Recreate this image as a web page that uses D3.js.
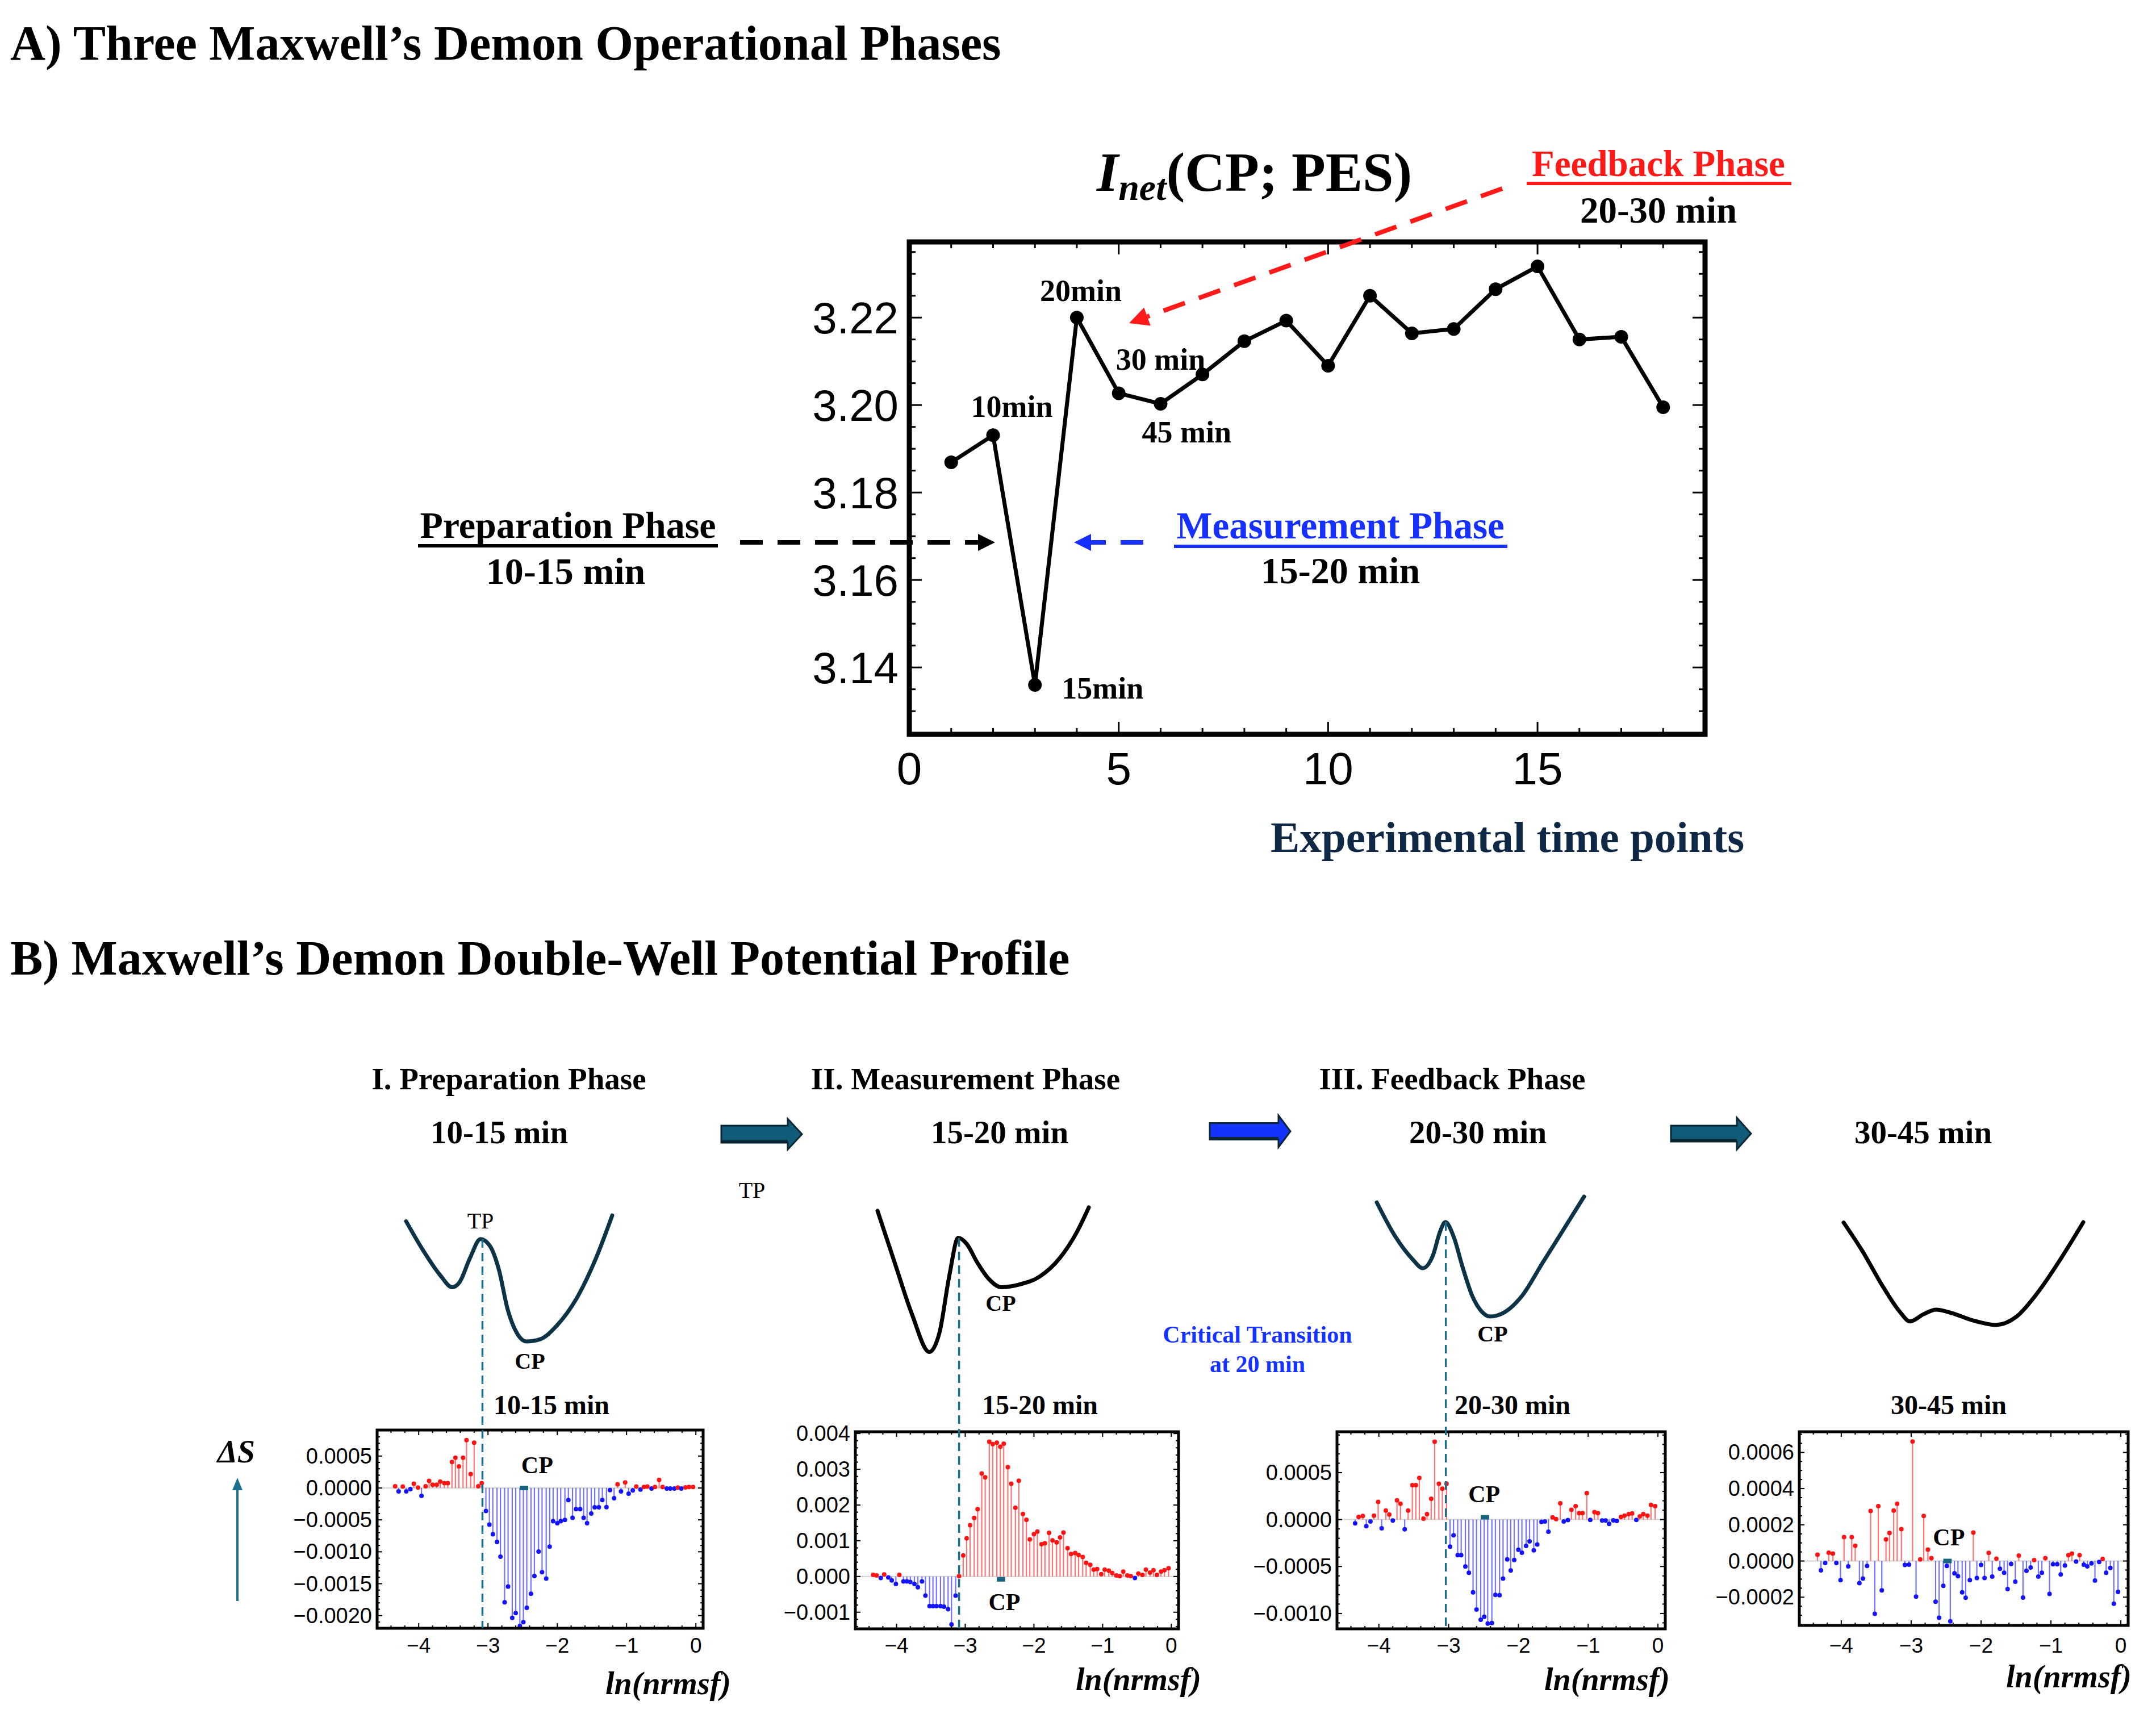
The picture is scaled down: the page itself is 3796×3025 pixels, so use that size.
<!DOCTYPE html>
<html>
<head>
<meta charset="utf-8">
<title>Maxwell's Demon phases</title>
<script src="https://cdn.jsdelivr.net/npm/d3@7"></script>
<style>
body { margin:0; background:#fff; }
svg text { font-family: "Liberation Serif", "Times New Roman", serif; }
</style>
</head>
<body>
<svg id="fig" width="3796" height="3025"></svg>
<script>

// ---- A) I_net(CP; PES) over experimental time points ----
var timePoints = [1, 2, 3, 4, 5, 6, 7, 8, 9, 10, 11, 12, 13, 14, 15, 16, 17, 18];
var inetValues = [3.1869, 3.1931, 3.1360, 3.2200, 3.2027, 3.2003, 3.2070, 3.2146, 3.2193,
                  3.2090, 3.2250, 3.2164, 3.2174, 3.2265, 3.2317, 3.2150, 3.2156, 3.1995];
var inetYTicks = [3.14, 3.16, 3.18, 3.20, 3.22];
var inetXTicks = [0, 5, 10, 15];
var timeNotes = [[2, "10min"], [3, "15min"], [4, "20min"], [5, "30 min"], [6, "45 min"]];

// ---- B) entropy change vs ln(nrmsf) ----
var lnGrid = [-4.34, -4.29, -4.23, -4.18, -4.12, -4.07, -4.01, -3.96, -3.90, -3.85,
              -3.80, -3.74, -3.69, -3.63, -3.58, -3.52, -3.47, -3.42, -3.36, -3.31,
              -3.25, -3.20, -3.14, -3.09, -3.03, -2.98, -2.93, -2.87, -2.82, -2.76,
              -2.71, -2.65, -2.60, -2.54, -2.49, -2.44, -2.38, -2.33, -2.27, -2.22,
              -2.16, -2.11, -2.06, -2.00, -1.95, -1.89, -1.84, -1.78, -1.73, -1.67,
              -1.62, -1.57, -1.51, -1.46, -1.40, -1.35, -1.29, -1.24, -1.18, -1.13,
              -1.08, -1.02, -0.97, -0.91, -0.86, -0.80, -0.75, -0.70, -0.64, -0.59,
              -0.53, -0.48, -0.42, -0.37, -0.31, -0.26, -0.21, -0.15, -0.10, -0.04];

var dsPrep = [0.000027, -0.000054, 0.000021, -0.000054, -0.000018, 0.000066, 0.000006, -0.000123, 0.000027, 0.000111,
              0.000051, 0.000051, 0.000099, 0.000075, 0.000075, 0.000407, 0.000473, 0.000337, 0.000473, 0.000750,
              0.000217, 0.000708, 0.000027, 0.000075, -0.000361, -0.000575, -0.000726, -0.000846, -0.001078, -0.001792,
              -0.001545, -0.002036, -0.001961, -0.002163, -0.002102, -0.001877, -0.001657, -0.001380, -0.000997, -0.001319,
              -0.001419, -0.000919, -0.000521, -0.000551, -0.000521, -0.000500, -0.000190, -0.000467, -0.000331, -0.000331,
              -0.000467, -0.000551, -0.000401, -0.000304, -0.000304, -0.000190, -0.000301, -0.000033, -0.000160, 0.000057,
              -0.000054, 0.000087, -0.000090, -0.000039, 0.000021, -0.000024, 0.000015, 0.000021, -0.000009, 0.000015,
              0.000127, 0.000015, -0.000009, -0.000009, -0.000009, 0.000006, -0.000009, 0.000009, 0.000015, 0.000015];

var dsMeas = [0.000044, 0.000027, -0.000044, 0.000055, -0.000027, -0.000109, -0.000208, 0.000044, -0.000137, -0.000137,
              -0.000153, -0.000208, -0.000300, -0.000137, -0.000536, -0.000831, -0.000831, -0.000831, -0.000831, -0.000847,
              -0.000918, -0.001340, -0.000536, 0.000010, 0.000590, 0.001066, 0.001437, 0.001639, 0.001885, 0.002880,
              0.002776, 0.003770, 0.003705, 0.003743, 0.003634, 0.003716, 0.003060, 0.002596, 0.001923, 0.002678,
              0.001749, 0.001585, 0.001038, 0.001186, 0.001257, 0.000902, 0.000929, 0.001219, 0.001011, 0.000956,
              0.001093, 0.001230, 0.000792, 0.000628, 0.000656, 0.000601, 0.000546, 0.000383, 0.000328, 0.000191,
              0.000208, 0.000066, 0.000191, 0.000164, 0.000098, 0.000027, 0.000011, 0.000137, 0.000027, 0.000011,
              -0.000044, 0.000082, 0.000044, 0.000191, 0.000109, 0.000175, 0.000044, 0.000137, 0.000175, 0.000230];

var dsFeed = [-0.000040, 0.000027, 0.000038, -0.000070, -0.000020, 0.000042, 0.000188, -0.000094, 0.000096, 0.000054,
              -0.000010, 0.000204, 0.000169, -0.000104, 0.000096, 0.000367, 0.000367, 0.000444, 0.000010, 0.000058,
              0.000221, 0.000829, 0.000381, 0.000329, 0.000381, -0.000288, -0.000167, -0.000379, -0.000379, -0.000500,
              -0.000567, -0.000775, -0.000958, -0.001067, -0.001035, -0.001108, -0.001102, -0.000802, -0.000806, -0.000629,
              -0.000425, -0.000542, -0.000431, -0.000321, -0.000354, -0.000281, -0.000233, -0.000327, -0.000265, -0.000025,
              -0.000021, -0.000129, 0.000023, 0.000005, 0.000173, -0.000021, -0.000005, 0.000104, 0.000142, 0.000069,
              0.000069, 0.000281, -0.000004, 0.000079, 0.000069, -0.000010, -0.000010, -0.000046, -0.000008, -0.000015,
              0.000027, 0.000042, 0.000058, 0.000065, -0.000004, 0.000033, 0.000058, 0.000042, 0.000156, 0.000142];

var dsRelax = [0.000035, -0.000052, -0.000011, 0.000046, 0.000041, -0.000011, -0.000106, 0.000132, -0.000030, 0.000132,
               0.000084, -0.000122, -0.000097, -0.000027, 0.000276, -0.000292, 0.000303, -0.000162, 0.000119, 0.000155,
               0.000279, 0.000316, 0.000176, -0.000022, -0.000020, 0.000660, -0.000197, 0.000009, 0.000249, 0.000063,
               0.000016, -0.000225, -0.000314, -0.000137, -0.000027, -0.000333, -0.000068, -0.000084, -0.000173, -0.000203,
               -0.000106, 0.000157, -0.000094, -0.000022, -0.000094, 0.000045, -0.000086, 0.000013, -0.000043, -0.000065,
               -0.000155, -0.000016, -0.000114, 0.000030, -0.000202, -0.000054, -0.000036, 0.000005, -0.000086, -0.000065,
               0.000016, -0.000182, -0.000018, -0.000018, -0.000074, -0.000025, 0.000032, 0.000041, -0.000003, 0.000032,
               -0.000020, -0.000030, -0.000013, -0.000108, -0.000005, 0.000011, -0.000065, -0.000038, -0.000236, -0.000171];

var lnTicks = [-4, -3, -2, -1, 0];
var prepTicks = [0.0005, 0, -0.0005, -0.001, -0.0015, -0.002];
var measTicks = [0.004, 0.003, 0.002, 0.001, 0, -0.001];
var feedTicks = [0.0005, 0, -0.0005, -0.001];
var relaxTicks = [0.0006, 0.0004, 0.0002, 0, -0.0002];

var phaseNames = ["I. Preparation Phase", "II. Measurement Phase", "III. Feedback Phase"];
var phaseWindows = ["10-15 min", "15-20 min", "20-30 min", "30-45 min"];

// schematic potentials: [reaction coordinate 0-100, potential 0-100]
var wellPrep = [[0, 83.8], [8.3, 65.4], [16.7, 49.6], [22.3, 42.3], [25.9, 45.4], [31, 60.7], [36.1, 72.6],
                [40.7, 68.2], [45, 53.4], [49.3, 28.2], [54, 12.9], [58.4, 8.2], [65, 9.6], [73.4, 18.6],
                [83.5, 37.1], [91.7, 59.3], [100, 87.5]];
var wellMeas = [[0, 90.4], [8.1, 57.9], [16.3, 25.4], [24.5, 1.6], [29.3, 13.6], [34.1, 50.4], [38.2, 73.4],
                [42.2, 69.6], [47.2, 57.9], [52.7, 47.5], [58.6, 42.3], [66.7, 43.9], [76.6, 48.9], [86.3, 60.7],
                [94.4, 77.1], [100, 92.5]];
var wellFeed = [[0, 95.7], [8.9, 74.3], [17.2, 60], [22.2, 54.3], [27.1, 62.3], [30.5, 77.1], [33.1, 83.3],
                [37.1, 74.1], [41.4, 55], [46, 37.1], [50.3, 27.5], [54.6, 23.9], [61.9, 26.8], [70.2, 37.1],
                [80.1, 57.9], [90.1, 78.6], [100, 99.3]];
var wellRelax = [[0, 83], [7.7, 65.4], [16.3, 43], [23.5, 26.8], [27.7, 20.8], [33.4, 25.4], [38.6, 28.2],
                 [45, 26.1], [53.6, 21.6], [63.5, 18.6], [72.2, 23.9], [80.8, 38.6], [90.8, 60.7], [100, 83.2]];

var svg = d3.select("#fig");
svg.append("rect").attr("width", 3796).attr("height", 3025).attr("fill", "#fff");

function label(x, y, txt, size, opts) {
  opts = opts || {};
  return svg.append("text").attr("x", x).attr("y", y)
    .attr("font-size", size)
    .attr("font-weight", opts.weight || "bold")
    .attr("font-style", opts.style || "normal")
    .attr("text-anchor", opts.anchor || "start")
    .attr("fill", opts.fill || "#000")
    .text(txt);
}

function dashedArrow(x1, y1, x2, y2, color, head) {
  var dx = x2 - x1, dy = y2 - y1, L = Math.hypot(dx, dy), ux = dx / L, uy = dy / L;
  var bx = x2 - ux * head, by = y2 - uy * head, w = head * 0.5;
  svg.append("line").attr("x1", x1).attr("y1", y1).attr("x2", bx).attr("y2", by)
    .attr("stroke", color).attr("stroke-width", 8).attr("stroke-dasharray", "40,26");
  svg.append("path")
    .attr("d", "M" + x2 + "," + y2 + "L" + (bx - uy * w) + "," + (by + ux * w) + "L" + (bx + uy * w) + "," + (by - ux * w) + "Z")
    .attr("fill", color);
}

// ================= A =================
label(18, 105, "A) Three Maxwell’s Demon Operational Phases", 86);

var ax = d3.scaleLinear().domain([0, 19]).range([1601, 3002]);
var ay = d3.scaleLinear().domain([3.1247, 3.2373]).range([1293, 426]);

var gA = svg.append("g");
// minor / major ticks on all four frame sides
d3.range(1, 19).forEach(function (t) {
  var len = t % 5 === 0 ? 22 : 11;
  gA.append("line").attr("x1", ax(t)).attr("x2", ax(t)).attr("y1", 1293).attr("y2", 1293 - len).attr("stroke", "#000").attr("stroke-width", 3);
  gA.append("line").attr("x1", ax(t)).attr("x2", ax(t)).attr("y1", 426).attr("y2", 426 + len).attr("stroke", "#000").attr("stroke-width", 3);
});
d3.range(3.13, 3.236, 0.005).forEach(function (v) {
  var major = inetYTicks.some(function (m) { return Math.abs(m - v) < 1e-6; });
  var len = major ? 22 : 11;
  gA.append("line").attr("x1", 1601).attr("x2", 1601 + len).attr("y1", ay(v)).attr("y2", ay(v)).attr("stroke", "#000").attr("stroke-width", 3);
  gA.append("line").attr("x1", 3002).attr("x2", 3002 - len).attr("y1", ay(v)).attr("y2", ay(v)).attr("stroke", "#000").attr("stroke-width", 3);
});
gA.append("rect").attr("x", 1601).attr("y", 426).attr("width", 1401).attr("height", 867)
  .attr("fill", "none").attr("stroke", "#000").attr("stroke-width", 9);

inetXTicks.forEach(function (t) {
  gA.append("text").attr("x", ax(t)).attr("y", 1381).attr("text-anchor", "middle")
    .attr("font-size", 80).style("font-family", "'Liberation Sans', Arial, sans-serif").text(t);
});
inetYTicks.forEach(function (v) {
  gA.append("text").attr("x", 1582).attr("y", ay(v) + 28).attr("text-anchor", "end")
    .attr("font-size", 78).style("font-family", "'Liberation Sans', Arial, sans-serif").text(v.toFixed(2));
});

var inetLine = d3.line().x(function (d, i) { return ax(timePoints[i]); }).y(function (d) { return ay(d); });
gA.append("path").datum(inetValues).attr("d", inetLine).attr("fill", "none")
  .attr("stroke", "#000").attr("stroke-width", 7).attr("stroke-linejoin", "round");
gA.selectAll("circle.pt").data(inetValues).enter().append("circle")
  .attr("cx", function (d, i) { return ax(timePoints[i]); })
  .attr("cy", function (d) { return ay(d); })
  .attr("r", 12).attr("fill", "#000");

// annotation offsets relative to their points
var noteOffset = { 2: [33, -32, "middle"], 3: [47, 24, "start"], 4: [7, -29, "middle"], 5: [-5, -41, "start"], 6: [-33, 68, "start"] };
timeNotes.forEach(function (n) {
  var o = noteOffset[n[0]];
  label(ax(n[0]) + o[0], ay(inetValues[n[0] - 1]) + o[1], n[1], 54, { anchor: o[2] });
});

// title I_net(CP; PES)
var tt = svg.append("text").attr("x", 1931).attr("y", 336).attr("font-size", 98).attr("font-weight", "bold");
tt.append("tspan").attr("font-style", "italic").text("I");
tt.append("tspan").attr("font-style", "italic").attr("font-size", 66).attr("dy", 16).text("net");
tt.append("tspan").attr("dy", -16).text("(CP; PES)");

label(2237, 1500, "Experimental time points", 77, { fill: "#0e2846" });

// phase call-outs
label(2920, 310, "Feedback Phase", 65, { anchor: "middle", fill: "#ff1a1a" });
svg.append("rect").attr("x", 2688).attr("y", 320).attr("width", 466).attr("height", 6).attr("fill", "#ff1a1a");
label(2920, 392, "20-30 min", 65, { anchor: "middle" });
dashedArrow(2645, 332, 1988, 569, "#ff1a1a", 34);

label(1000, 947, "Preparation Phase", 66, { anchor: "middle" });
svg.append("rect").attr("x", 736).attr("y", 958).attr("width", 528).attr("height", 6).attr("fill", "#000");
label(996, 1028, "10-15 min", 66, { anchor: "middle" });
dashedArrow(1303, 955, 1752, 955, "#000", 30);

label(2360, 948, "Measurement Phase", 67, { anchor: "middle", fill: "#1530ff" });
svg.append("rect").attr("x", 2067).attr("y", 959).attr("width", 587).attr("height", 6).attr("fill", "#1530ff");
label(2360, 1027, "15-20 min", 66, { anchor: "middle" });
dashedArrow(2013, 955, 1891, 955, "#1530ff", 30);

// ================= B =================
label(18, 1716, "B) Maxwell’s Demon Double-Well Potential Profile", 86);

[896, 1700, 2557].forEach(function (cx, i) { label(cx, 1918, phaseNames[i], 55, { anchor: "middle" }); });
[879, 1760, 2602, 3386].forEach(function (cx, i) { label(cx, 2013, phaseWindows[i], 57, { anchor: "middle" }); });

function blockArrow(x0, xb, xt, yc, bh, hh, fill) {
  var p = "M" + x0 + "," + (yc - bh / 2) + "L" + xb + "," + (yc - bh / 2) + "L" + xb + "," + (yc - hh / 2) +
          "L" + xt + "," + yc + "L" + xb + "," + (yc + hh / 2) + "L" + xb + "," + (yc + bh / 2) + "L" + x0 + "," + (yc + bh / 2) + "Z";
  svg.append("path").attr("d", p).attr("fill", fill).attr("stroke", "#0b2633").attr("stroke-width", 3);
  svg.append("line").attr("x1", x0).attr("x2", xb).attr("y1", yc + bh / 2 - 2).attr("y2", yc + bh / 2 - 2)
    .attr("stroke", "#0b2633").attr("stroke-width", 5);
}
blockArrow(1270, 1387, 1412, 1997, 30, 54, "#0f5b78");
blockArrow(2130, 2251, 2272, 1992, 29, 56, "#1433ff");
blockArrow(2942, 3058, 3083, 1996, 28, 56, "#0f5b78");

label(1324, 2109, "TP", 40, { anchor: "middle", weight: "normal" });

// wells
var uScale = d3.scaleLinear().domain([0, 100]).range([2385, 2105]);
var wells = [
  { pts: wellPrep, x: [715, 1078], color: "#0d3446" },
  { pts: wellMeas, x: [1545, 1917], color: "#000" },
  { pts: wellFeed, x: [2424, 2789], color: "#0d3446" },
  { pts: wellRelax, x: [3246, 3668], color: "#000" }
];
wells.forEach(function (w) {
  var qs = d3.scaleLinear().domain([0, 100]).range(w.x);
  var ln = d3.line().x(function (d) { return qs(d[0]); }).y(function (d) { return uScale(d[1]); }).curve(d3.curveMonotoneX);
  svg.append("path").datum(w.pts).attr("d", ln).attr("fill", "none").attr("stroke", w.color)
    .attr("stroke-width", 7).attr("stroke-linecap", "round");
});
label(846, 2163, "TP", 40, { anchor: "middle", weight: "normal" });
label(933, 2410, "CP", 40, { anchor: "middle" });
label(1762, 2308, "CP", 40, { anchor: "middle" });
label(2628, 2362, "CP", 40, { anchor: "middle" });
label(2214, 2364, "Critical Transition", 42, { anchor: "middle", fill: "#1433ff" });
label(2214, 2416, "at 20 min", 42, { anchor: "middle", fill: "#1433ff" });

// ΔS axis hint
var dS = svg.append("text").attr("x", 449).attr("y", 2575).attr("text-anchor", "end")
  .attr("font-size", 56).attr("font-weight", "bold").attr("font-style", "italic").text("ΔS");
svg.append("line").attr("x1", 418).attr("x2", 418).attr("y1", 2819).attr("y2", 2620)
  .attr("stroke", "#1e6f8b").attr("stroke-width", 4);
svg.append("path").attr("d", "M418,2602L409,2624L427,2624Z").attr("fill", "#1e6f8b");

var panels = [
  { vals: dsPrep, ticks: prepTicks, fmt: ".4f", minor: 0.0001, x: [664, 1238], y: [2518, 2867], dom: [-0.002198, 0.000907],
    title: 971, cp: [-2.29, 0.00023], cpShift: 0, dash: -3.08, peakY: 2182, xlab: [1287, 2983] },
  { vals: dsMeas, ticks: measTicks, fmt: ".3f", minor: 0.0002, x: [1506, 2075], y: [2521, 2868], dom: [-0.001465, 0.00405],
    title: 1831, cp: [-2.43, -0.000933], cpShift: 5, dash: -3.09, peakY: 2180, xlab: [2115, 2976] },
  { vals: dsFeed, ticks: feedTicks, fmt: ".4f", minor: 0.0001, x: [2354, 2932], y: [2521, 2868], dom: [-0.001164, 0.000935],
    title: 2663, cp: [-2.49, 0.000185], cpShift: -4, dash: -3.04, peakY: 2152, xlab: [2940, 2976] },
  { vals: dsRelax, ticks: relaxTicks, fmt: ".4f", minor: 0.00005, x: [3168, 3747], y: [2521, 2862], dom: [-0.000356, 0.000714],
    title: 3431, cp: [-2.46, 0.0000867], cpShift: 0, dash: null, xlab: [3753, 2971] }
];

var numFont = "'Liberation Sans', Arial, sans-serif";
panels.forEach(function (p, pi) {
  var g = svg.append("g");
  var x = d3.scaleLinear().domain([-4.6, 0.105]).range(p.x);
  var y = d3.scaleLinear().domain(p.dom).range([p.y[1], p.y[0]]);
  var fmt = d3.format(p.fmt);

  g.append("line").attr("x1", p.x[0]).attr("x2", p.x[1]).attr("y1", y(0)).attr("y2", y(0))
    .attr("stroke", "#d4d4d4").attr("stroke-width", 2);

  // stems + dots
  g.selectAll("line.stem").data(p.vals).enter().append("line")
    .attr("x1", function (d, i) { return x(lnGrid[i]); })
    .attr("x2", function (d, i) { return x(lnGrid[i]); })
    .attr("y1", y(0)).attr("y2", function (d) { return y(d); })
    .attr("stroke", function (d) { return d >= 0 ? "#ff5a5a" : "#5a5aff"; })
    .attr("stroke-width", 2.2).attr("stroke-opacity", 0.85);
  g.selectAll("circle.dot").data(p.vals).enter().append("circle")
    .attr("cx", function (d, i) { return x(lnGrid[i]); })
    .attr("cy", function (d) { return y(d); })
    .attr("r", 4)
    .attr("fill", function (d) { return d >= 0 ? "#ff1414" : "#1414ff"; });

  // CP marker on the axis
  g.append("rect").attr("x", x(-2.54)).attr("width", x(-2.42) - x(-2.54))
    .attr("y", y(0) - 4 + p.cpShift).attr("height", 8).attr("fill", "#17627c");

  // frame ticks
  var xt0 = d3.range(-4.6, 0.1, 0.2);
  xt0.forEach(function (v) {
    var major = Math.abs(v - Math.round(v)) < 1e-6;
    var len = major ? 9 : 5;
    g.append("line").attr("x1", x(v)).attr("x2", x(v)).attr("y1", p.y[1]).attr("y2", p.y[1] - len).attr("stroke", "#000").attr("stroke-width", 2);
    g.append("line").attr("x1", x(v)).attr("x2", x(v)).attr("y1", p.y[0]).attr("y2", p.y[0] + len).attr("stroke", "#000").attr("stroke-width", 2);
  });
  var ymin = Math.ceil(p.dom[0] / p.minor) * p.minor;
  d3.range(ymin, p.dom[1], p.minor).forEach(function (v) {
    var major = p.ticks.some(function (m) { return Math.abs(m - v) < p.minor * 0.01; });
    var len = major ? 9 : 5;
    g.append("line").attr("x1", p.x[0]).attr("x2", p.x[0] + len).attr("y1", y(v)).attr("y2", y(v)).attr("stroke", "#000").attr("stroke-width", 2);
    g.append("line").attr("x1", p.x[1]).attr("x2", p.x[1] - len).attr("y1", y(v)).attr("y2", y(v)).attr("stroke", "#000").attr("stroke-width", 2);
  });
  g.append("rect").attr("x", p.x[0]).attr("y", p.y[0]).attr("width", p.x[1] - p.x[0]).attr("height", p.y[1] - p.y[0])
    .attr("fill", "none").attr("stroke", "#000").attr("stroke-width", 5);

  p.ticks.forEach(function (v) {
    g.append("text").attr("x", p.x[0] - 9).attr("y", y(v) + 13).attr("text-anchor", "end")
      .attr("font-size", 38).style("font-family", numFont).text(fmt(v));
  });
  lnTicks.forEach(function (v) {
    g.append("text").attr("x", x(v)).attr("y", 2910).attr("text-anchor", "middle")
      .attr("font-size", 37).style("font-family", numFont).text(d3.format("d")(v));
  });

  label(p.title, 2490, phaseWindows[pi], 48, { anchor: "middle" });
  label(x(p.cp[0]), y(p.cp[1]), "CP", 42, { anchor: "middle" });
  label(p.xlab[0], p.xlab[1], "ln(nrmsf)", 56, { anchor: "end", style: "italic" });

  if (p.dash !== null) {
    svg.append("line").attr("x1", x(p.dash)).attr("x2", x(p.dash)).attr("y1", p.peakY).attr("y2", p.y[1])
      .attr("stroke", "#1a6e8a").attr("stroke-width", 3.5).attr("stroke-dasharray", "15,9");
  }
});

</script>
</body>
</html>
